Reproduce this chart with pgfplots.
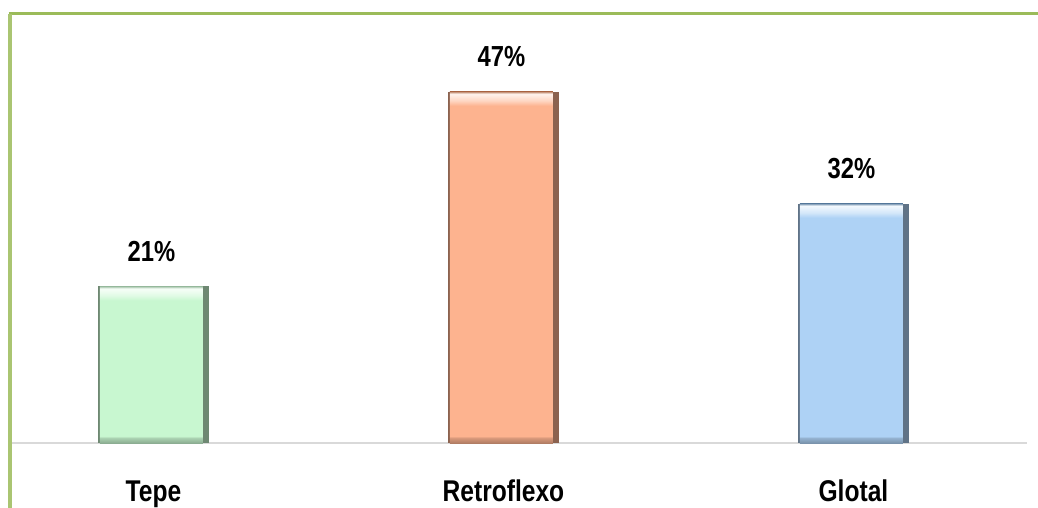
\documentclass[border=0pt]{standalone}
\usepackage{pgfplots}
\pgfplotsset{compat=1.18}
\usepackage{fontspec}
\setmainfont{Liberation Sans}[FakeStretch=0.82]

\definecolor{framegreen}{HTML}{9BBB59}
\definecolor{cTepe}{HTML}{C8F7D0}
\definecolor{cRetro}{HTML}{FDB38F}
\definecolor{cGlotal}{HTML}{AED2F5}

% vertical bevel shadings (central 25bp..75bp maps onto the bar)
\pgfdeclareverticalshading{shTepe}{100bp}{%
  color(0bp)=(cTepe!70!black); color(25bp)=(cTepe!70!black);
  color(26.6bp)=(cTepe!85!black); color(27.2bp)=(cTepe);
  color(70.4bp)=(cTepe); color(72bp)=(cTepe!55!white);
  color(74.2bp)=(cTepe!15!white); color(75bp)=(cTepe!75!black);
  color(100bp)=(cTepe!75!black)}
\pgfdeclareverticalshading{shRetro}{100bp}{%
  color(0bp)=(cRetro!70!black); color(25bp)=(cRetro!70!black);
  color(25.7bp)=(cRetro!85!black); color(26bp)=(cRetro);
  color(73bp)=(cRetro); color(73.7bp)=(cRetro!55!white);
  color(74.7bp)=(cRetro!15!white); color(75bp)=(cRetro!75!black);
  color(100bp)=(cRetro!75!black)}
\pgfdeclareverticalshading{shGlotal}{100bp}{%
  color(0bp)=(cGlotal!70!black); color(25bp)=(cGlotal!70!black);
  color(26.05bp)=(cGlotal!85!black); color(26.4bp)=(cGlotal);
  color(72.1bp)=(cGlotal); color(73.1bp)=(cGlotal!55!white);
  color(74.6bp)=(cGlotal!15!white); color(75bp)=(cGlotal!75!black);
  color(100bp)=(cGlotal!75!black)}

\begin{document}
\begin{tikzpicture}
\useasboundingbox (-10bp,-65bp) rectangle (1028bp,443bp);
\fill[white] (-10bp,-65bp) rectangle (1028bp,443bp);
\begin{axis}[
  scale only axis,
  width=1017bp, height=429bp,
  xmin=-0.41, xmax=2.496,
  ymin=0, ymax=57.4,
  axis y line=none,
  axis x line*=bottom,
  x axis line style={draw=black!15, line width=2bp},
  xtick={0,1,2},
  xticklabels={Tepe,Retroflexo,Glotal},
  xtick style={draw=none},
  xticklabel style={anchor=base, yshift=-54bp, font=\fontsize{30bp}{32bp}\selectfont\bfseries},
  /pgf/number format/assume math mode=true,
  ybar, bar width=111bp, bar shift=0pt,
  labelled/.style={nodes near coords={\pgfmathprintnumber{\pgfplotspointmeta}\%},
    every node near coord/.append style={anchor=base, yshift=25bp, black,
      font=\fontsize{29bp}{31bp}\selectfont\bfseries}},
  body/.style={bar width=103bp, bar shift=-2bp, draw=none},
  clip=false,
]
% dark edge layer, then shaded body
\addplot[fill=cTepe!55!black, draw=none] coordinates {(0,21)};
\addplot[body, shading=shTepe, labelled] coordinates {(0,21)};
\addplot[fill=cRetro!55!black, draw=none] coordinates {(1,47)};
\addplot[body, shading=shRetro, labelled] coordinates {(1,47)};
\addplot[fill=cGlotal!55!black, draw=none] coordinates {(2,32)};
\addplot[body, shading=shGlotal, labelled] coordinates {(2,32)};
\end{axis}
\draw[framegreen, line width=3bp] (-1.5bp,429bp) -- (1030bp,429bp);
\draw[framegreen!85!white, line width=3bp] (0bp,429bp) -- (0bp,-70bp);
\end{tikzpicture}
\end{document}
